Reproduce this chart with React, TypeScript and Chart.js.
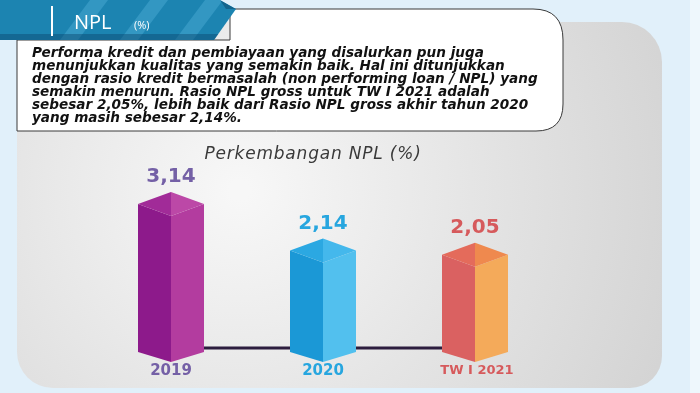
import React, { useEffect, useRef } from "react";
import { Chart, registerables } from "chart.js";

Chart.register(...registerables);

// ---- data ----
const categories = ["2019", "2020", "TW I 2021"];
const nplValues = [3.14, 2.14, 2.05];
const valueLabels = ["3,14", "2,14", "2,05"];
const labelColors = ["#7460a6", "#27a6df", "#d65a5c"];
const leftFaceColors = ["#8d1a8b", "#1b98d6", "#da6161"];
const rightFaceColors = ["#b33c9f", "#52c0ee", "#f4aa5a"];
const topLeftColors = ["#a12b98", "#2ba8e2", "#e46b5b"];
const topRightColors = ["#bc48a7", "#44b8ec", "#ef894e"];
const chartTitle = "Perkembangan NPL (%)";
const headerTitle = "NPL";
const headerUnit = "(%)";
const paragraphLines = [
  "Performa kredit dan pembiayaan yang disalurkan pun juga",
  "menunjukkan kualitas yang semakin baik. Hal ini ditunjukkan",
  "dengan rasio kredit bermasalah (non performing loan / NPL) yang",
  "semakin menurun. Rasio NPL gross untuk TW I 2021 adalah",
  "sebesar 2,05%, lebih baik dari Rasio NPL gross akhir tahun 2020",
  "yang masih sebesar 2,14%.",
];

const backgroundPlugin = {
  id: "infographicBackground",
  beforeDraw(chart: any) {
    const ctx = chart.ctx as CanvasRenderingContext2D;
    const W = chart.width;
    const H = chart.height;
    ctx.save();
    // page background
    ctx.fillStyle = "#e1f0fa";
    ctx.fillRect(0, 0, W, H);
    ctx.fillStyle = "#eef7fc";
    ctx.fillRect(690, 0, W - 690, H);

    // gray panel
    const g = ctx.createRadialGradient(240, 190, 10, 240, 190, 480);
    g.addColorStop(0, "#f7f7f7");
    g.addColorStop(0.55, "#e2e2e2");
    g.addColorStop(1, "#d2d2d2");
    ctx.fillStyle = g;
    ctx.beginPath();
    (ctx as any).roundRect(17, 22, 645, 366, [0, 40, 32, 36]);
    ctx.fill();

    // text box
    ctx.beginPath();
    ctx.moveTo(17, 40);
    ctx.lineTo(230, 40);
    ctx.lineTo(230, 9);
    ctx.lineTo(533, 9);
    ctx.quadraticCurveTo(563, 9, 563, 40);
    ctx.lineTo(563, 104);
    ctx.quadraticCurveTo(563, 131, 536, 131);
    ctx.lineTo(17, 131);
    ctx.closePath();
    ctx.fillStyle = "#ffffff";
    ctx.fill();
    ctx.strokeStyle = "#3a3a3a";
    ctx.lineWidth = 1;
    ctx.stroke();

    // header tab
    ctx.save();
    ctx.beginPath();
    ctx.moveTo(0, 0);
    ctx.lineTo(220, 0);
    ctx.lineTo(236, 9);
    ctx.lineTo(214, 40);
    ctx.lineTo(0, 40);
    ctx.closePath();
    ctx.fillStyle = "#1c84b1";
    ctx.fill();
    ctx.clip();
    ctx.fillStyle = "rgba(80,175,215,0.45)";
    const bands = [60, 120, 175];
    bands.forEach((bx) => {
      ctx.beginPath();
      ctx.moveTo(bx, 40);
      ctx.lineTo(bx + 30, 0);
      ctx.lineTo(bx + 48, 0);
      ctx.lineTo(bx + 18, 40);
      ctx.closePath();
      ctx.fill();
    });
    ctx.fillStyle = "rgba(10,70,110,0.45)";
    ctx.fillRect(0, 34, 240, 6);
    ctx.fillStyle = "#14658d";
    ctx.beginPath();
    ctx.moveTo(220, 0);
    ctx.lineTo(236, 9);
    ctx.lineTo(226, 9);
    ctx.closePath();
    ctx.fill();
    ctx.restore();

    // vertical white line
    ctx.fillStyle = "#ffffff";
    ctx.fillRect(51, 6, 2, 30);
    ctx.font = '20px "Open Sans"';
    ctx.textBaseline = "alphabetic";
    ctx.textAlign = "left";
    ctx.fillText(headerTitle, 74, 29);
    ctx.font = '11px "Open Sans"';
    ctx.fillText(headerUnit, 134, 29);

    // paragraph
    ctx.fillStyle = "#111111";
    ctx.font = 'italic bold 13.6px "DejaVu Sans"';
    ctx.textBaseline = "middle";
    paragraphLines.forEach((line, i) => {
      ctx.fillText(line, 32, 53 + i * 13);
    });

    // chart title
    ctx.fillStyle = "#3a3a3a";
    ctx.font = 'italic 17px "DejaVu Sans"';
    (ctx as any).letterSpacing = "0.8px";
    ctx.textAlign = "center";
    ctx.fillText(chartTitle, 313, 155);
    (ctx as any).letterSpacing = "0px";
    ctx.restore();
  },
};

const prismPlugin = {
  id: "prismBars",
  beforeDatasetsDraw(chart: any) {
    const meta = chart.getDatasetMeta(0);
    const ctx = chart.ctx as CanvasRenderingContext2D;
    const first = meta.data[0];
    const last = meta.data[meta.data.length - 1];
    ctx.save();
    ctx.strokeStyle = "#2c1d3e";
    ctx.lineWidth = 3;
    ctx.beginPath();
    ctx.moveTo(first.x, first.base - 14);
    ctx.lineTo(last.x, last.base - 14);
    ctx.stroke();
    ctx.restore();
  },
  afterDatasetsDraw(chart: any) {
    const meta = chart.getDatasetMeta(0);
    const ctx = chart.ctx as CanvasRenderingContext2D;
    ctx.save();
    meta.data.forEach((bar: any, i: number) => {
      const x = bar.x;
      const y = bar.y;
      const base = bar.base;
      const dx = bar.width / 2;
      const dt = 12;
      const db = 10;
      const poly = (pts: number[][], color: string) => {
        ctx.beginPath();
        ctx.moveTo(pts[0][0], pts[0][1]);
        for (let k = 1; k < pts.length; k++) ctx.lineTo(pts[k][0], pts[k][1]);
        ctx.closePath();
        ctx.fillStyle = color;
        ctx.fill();
      };
      poly([[x - dx, y - dt], [x, y], [x, base], [x - dx, base - db]], leftFaceColors[i]);
      poly([[x, y], [x + dx, y - dt], [x + dx, base - db], [x, base]], rightFaceColors[i]);
      poly([[x - dx, y - dt], [x, y - 2 * dt], [x, y]], topLeftColors[i]);
      poly([[x, y - 2 * dt], [x + dx, y - dt], [x, y]], topRightColors[i]);

      // value label
      ctx.fillStyle = labelColors[i];
      ctx.textAlign = "center";
      ctx.textBaseline = "middle";
      ctx.font = 'bold 20px "DejaVu Sans"';
      ctx.fillText(valueLabels[i], x, y - 2 * dt - 15);
      // category label
      ctx.font = i === 2 ? 'bold 13px "DejaVu Sans"' : 'bold 15px "DejaVu Sans"';
      ctx.fillText(categories[i], x + (i === 2 ? 2 : 0), base + 9);
    });
    ctx.restore();
  },
};

export default function App() {
  const canvasRef = useRef<HTMLCanvasElement | null>(null);

  useEffect(() => {
    if (!canvasRef.current) return;
    const chart = new Chart(canvasRef.current, {
      type: "bar",
      data: {
        labels: categories,
        datasets: [
          {
            label: "NPL (%)",
            data: nplValues,
            backgroundColor: "rgba(0,0,0,0)",
            borderWidth: 0,
            barThickness: 66,
          },
        ],
      },
      options: {
        animation: false,
        responsive: true,
        maintainAspectRatio: false,
        layout: { padding: { left: 95, right: 149, top: 176, bottom: 31 } },
        plugins: {
          legend: { display: false },
          tooltip: { enabled: false },
          title: { display: false },
        },
        scales: {
          x: { display: false },
          y: { display: false, min: 0, max: 4 },
        },
      },
      plugins: [backgroundPlugin, prismPlugin],
    });
    return () => chart.destroy();
  }, []);

  return (
    <div style={{ position: "fixed", left: 0, top: 0, width: 700, height: 393 }}>
      <canvas ref={canvasRef} />
    </div>
  );
}
